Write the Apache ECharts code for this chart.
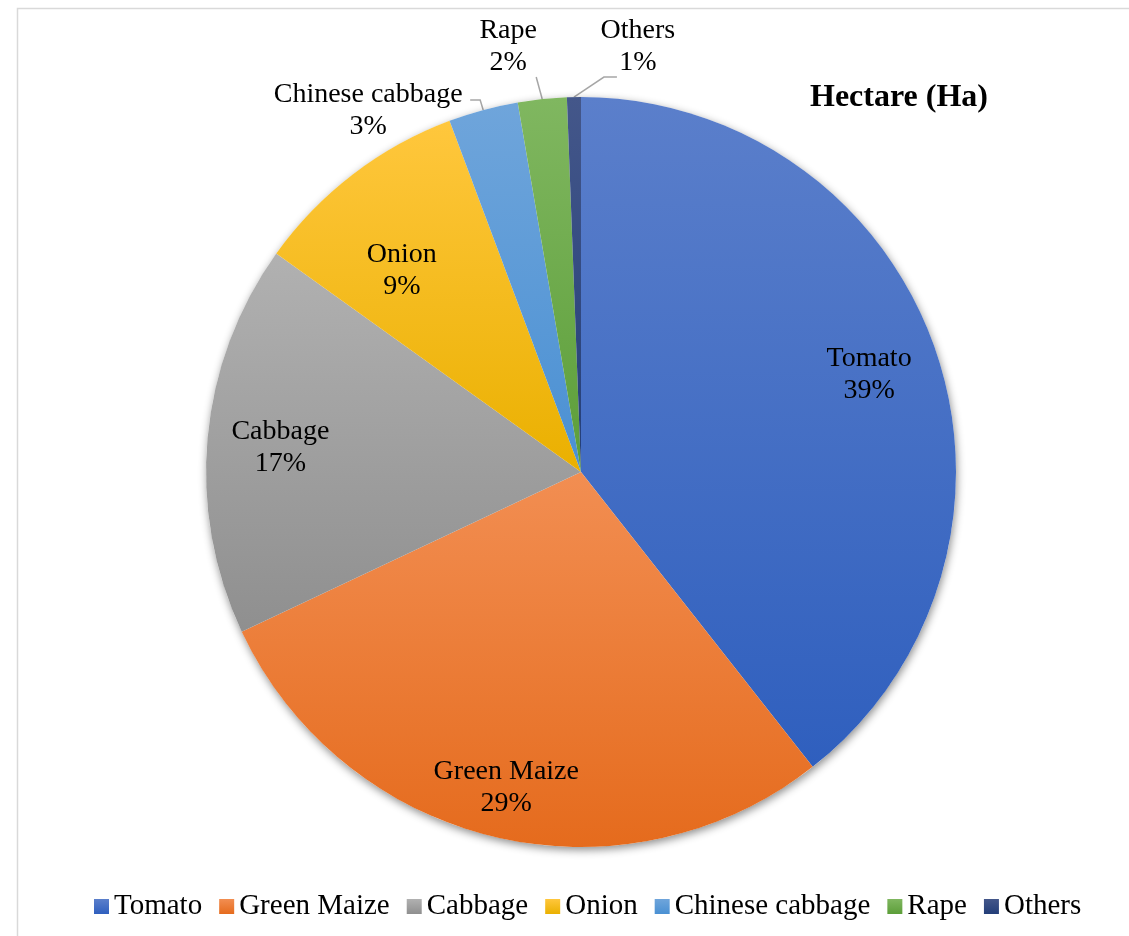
<!DOCTYPE html>
<html>
<head>
<meta charset="utf-8">
<title>Hectare (Ha)</title>
<script src="https://cdn.jsdelivr.net/npm/echarts@6/dist/echarts.min.js"></script>
<style>
  html, body { margin: 0; padding: 0; background: #ffffff; }
  #chart { width: 1129px; height: 936px; }
</style>
</head>
<body>
<div id="chart"></div>
<script>
// Share of cultivated area by crop (percent of hectares)
const categories = ['Tomato', 'Green Maize', 'Cabbage', 'Onion', 'Chinese cabbage', 'Rape', 'Others'];
const shares = [39.4, 28.6, 16.9, 9.4, 3.0, 2.1, 0.6];
const chartTitle = 'Hectare (Ha)';

// Slice fills: lighter at the top of each slice, darker at the bottom
const topColors = ['#5B7FCB', '#F28E52', '#B1B1B1', '#FFC73D', '#6FA5DB', '#80B760', '#44578A'];
const bottomColors = ['#2F5FBE', '#E56B1D', '#8F8F8F', '#EAB000', '#4A90D3', '#5C9E39', '#233E78'];

const FONT = "'Liberation Serif', 'Times New Roman', serif";
const CX = 581, CY = 472, R = 375;

// Inside labels: distance from centre as a fraction of the radius, plus a small nudge
const insidePlacement = {
  'Tomato': { f: 0.81, dx: 1, dy: 2 },
  'Green Maize': { f: 0.865, dx: 0, dy: 0 },
  'Cabbage': { f: 0.805, dx: 0, dy: 3 },
  'Onion': { f: 0.72, dx: -15, dy: 13 }
};
// Outside labels: elbow, tail and text centre relative to the slice's outer edge point
const outsidePlacement = {
  'Chinese cabbage': { knee: [-3, -10], tail: [-13, -10], text: [-115, 1] },
  'Rape': { knee: [-6, -22], tail: [-6, -22], text: [-34, -52] },
  'Others': { knee: [30, -20], tail: [43, -20], text: [64, -50] }
};

const total = shares.reduce((a, b) => a + b, 0);
const midAngles = [];
let acc = 0;
shares.forEach(v => {
  midAngles.push(((acc + v / 2) / total) * 2 * Math.PI);
  acc += v;
});
function polar(angle, r) {
  return [CX + r * Math.sin(angle), CY - r * Math.cos(angle)];
}

const pieData = categories.map((name, i) => {
  const outside = !!outsidePlacement[name];
  return {
    name: name,
    value: shares[i],
    itemStyle: {
      color: new echarts.graphic.LinearGradient(0, 0, 0, 1, [
        { offset: 0, color: topColors[i] },
        { offset: 1, color: bottomColors[i] }
      ])
    },
    label: { position: outside ? 'outside' : 'inside' },
    labelLine: { show: outside }
  };
});

const chart = echarts.init(document.getElementById('chart'), null, { renderer: 'canvas' });

chart.setOption({
  backgroundColor: '#ffffff',
  animation: false,
  title: {
    text: chartTitle,
    left: 805,
    top: 77,
    textStyle: { fontFamily: FONT, fontSize: 32, fontWeight: 'bold', color: '#000000' }
  },
  legend: {
    data: categories,
    left: 89,
    top: 887,
    icon: 'rect',
    itemWidth: 15,
    itemHeight: 15,
    itemGap: 17,
    textStyle: { fontFamily: FONT, fontSize: 29, color: '#000000' }
  },
  graphic: [{
    type: 'rect',
    silent: true,
    shape: { x: 17.5, y: 8.5, width: 1300, height: 1100 },
    style: { fill: 'none', stroke: '#d9d9d9', lineWidth: 1.5 }
  }],
  series: [
    {
      // soft drop shadow under the whole pie
      type: 'pie',
      silent: true,
      center: [CX, CY],
      radius: R,
      label: { show: false },
      labelLine: { show: false },
      itemStyle: {
        color: '#ffffff',
        shadowBlur: 9,
        shadowColor: 'rgba(0,0,0,0.45)',
        shadowOffsetX: 1,
        shadowOffsetY: 3
      },
      data: [{ name: '', value: total }],
      legendHoverLink: false
    },
    {
      type: 'pie',
      center: [CX, CY],
      radius: R,
      startAngle: 90,
      clockwise: true,
      avoidLabelOverlap: false,
      itemStyle: { borderWidth: 0 },
      label: {
        show: true,
        fontFamily: FONT,
        fontSize: 28,
        lineHeight: 32,
        color: '#000000',
        align: 'center',
        formatter: p => p.name + '\n' + Math.round(p.percent) + '%'
      },
      labelLine: {
        length: 10,
        length2: 10,
        lineStyle: { color: '#a6a6a6', width: 1.5 }
      },
      labelLayout: function (params) {
        const i = params.dataIndex;
        const name = categories[i];
        const ang = midAngles[i];
        if (outsidePlacement[name]) {
          const o = outsidePlacement[name];
          const e = polar(ang, R);
          return {
            x: e[0] + o.text[0],
            y: e[1] + o.text[1],
            align: 'center',
            verticalAlign: 'middle',
            labelLinePoints: [
              e,
              [e[0] + o.knee[0], e[1] + o.knee[1]],
              [e[0] + o.tail[0], e[1] + o.tail[1]]
            ]
          };
        }
        const p = insidePlacement[name];
        const pt = polar(ang, R * p.f);
        return {
          x: pt[0] + p.dx,
          y: pt[1] + p.dy,
          align: 'center',
          verticalAlign: 'middle'
        };
      },
      data: pieData
    }
  ]
});
</script>
</body>
</html>
